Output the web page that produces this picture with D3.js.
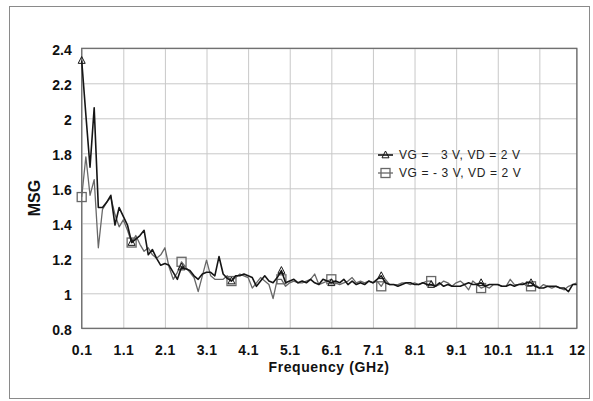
<!DOCTYPE html>
<html>
<head>
<meta charset="utf-8">
<script src="https://cdn.jsdelivr.net/npm/d3@7"></script>
<style>
  body { margin: 0; background: #fff; }
  svg { display: block; font-family: "Liberation Sans", Arial, sans-serif; }
</style>
</head>
<body>
<div id="chart"></div>
<script>
// frequency grid: 0.1 GHz step, 120 samples
const freqStart = 0.1;
const freqStep = 0.1;

const msgVg3 = [
    2.33, 2.02, 1.72, 2.06, 1.49, 1.49, 1.52, 1.56, 1.39, 1.49,
    1.44, 1.39, 1.29, 1.31, 1.33, 1.36, 1.22, 1.25, 1.20, 1.16,
    1.17, 1.16, 1.12, 1.08, 1.15, 1.14, 1.13, 1.10, 1.08, 1.11,
    1.12, 1.12, 1.10, 1.21, 1.11, 1.085, 1.07, 1.10, 1.10, 1.11,
    1.10, 1.09, 1.04, 1.07, 1.10, 1.07, 1.06, 1.09, 1.13, 1.06,
    1.07, 1.08, 1.06, 1.07, 1.06, 1.08, 1.06, 1.05, 1.08, 1.07,
    1.06, 1.07, 1.06, 1.08, 1.05, 1.07, 1.05, 1.06, 1.05, 1.07,
    1.06, 1.08, 1.10, 1.06, 1.05, 1.05, 1.04, 1.05, 1.06, 1.06,
    1.05, 1.05, 1.06, 1.05, 1.05, 1.04, 1.06, 1.04, 1.05, 1.04,
    1.04, 1.04, 1.05, 1.06, 1.05, 1.05, 1.06, 1.04, 1.05, 1.05,
    1.05, 1.04, 1.04, 1.05, 1.04, 1.05, 1.05, 1.06, 1.06, 1.04,
    1.03, 1.03, 1.04, 1.04, 1.04, 1.03, 1.03, 1.01, 1.05, 1.05
];

const msgVgNeg3 = [
    1.55, 1.78, 1.56, 1.65, 1.26, 1.48, 1.52, 1.55, 1.45, 1.38,
    1.42, 1.36, 1.29, 1.33, 1.28, 1.24, 1.26, 1.22, 1.20, 1.22,
    1.26, 1.15, 1.08, 1.12, 1.18, 1.15, 1.12, 1.09, 1.01, 1.10,
    1.19, 1.10, 1.08, 1.08, 1.08, 1.10, 1.07, 1.09, 1.11, 1.10,
    1.09, 1.03, 1.06, 1.09, 1.07, 1.05, 0.97, 1.08, 1.08, 1.04,
    1.06, 1.07, 1.06, 1.06, 1.07, 1.08, 1.11, 1.05, 1.06, 1.07,
    1.08, 1.06, 1.05, 1.06, 1.07, 1.09, 1.06, 1.07, 1.06, 1.07,
    1.06, 1.07, 1.04, 1.08, 1.05, 1.05, 1.05, 1.06, 1.06, 1.05,
    1.06, 1.05, 1.06, 1.07, 1.07, 1.04, 1.05, 1.07, 1.06, 1.04,
    1.06, 1.07, 1.05, 1.02, 1.07, 1.05, 1.03, 1.04, 1.03, 1.05,
    1.05, 1.04, 1.04, 1.08, 1.05, 1.05, 1.06, 1.04, 1.04, 1.05,
    1.03, 1.05, 1.04, 1.03, 1.04, 1.03, 1.02, 1.04, 1.05, 1.06
];

const xTicks = [0.1, 1.1, 2.1, 3.1, 4.1, 5.1, 6.1, 7.1, 8.1, 9.1, 10.1, 11.1, 12];
const yTicks = [0.8, 1.0, 1.2, 1.4, 1.6, 1.8, 2.0, 2.2, 2.4];
const markerEvery = 12;

const seriesNames = ["VG =   3 V, VD = 2 V", "VG = - 3 V, VD = 2 V"];

const width = 593;
const height = 401;
const plot = { left: 81.7, right: 576.8, top: 48.3, bottom: 328.3 };

const svg = d3.select("#chart")
    .append("svg")
    .attr("width", width)
    .attr("height", height);

// outer frame
svg.append("rect")
    .attr("x", 9.5).attr("y", 6.5)
    .attr("width", 580).attr("height", 392)
    .attr("fill", "#fff")
    .attr("stroke", "#8a8a8a")
    .attr("stroke-width", 1);

const x = d3.scaleLinear().domain([0.1, 12]).range([plot.left, plot.right]);
const y = d3.scaleLinear().domain([0.8, 2.4]).range([plot.bottom, plot.top]);

const fmt = d => String(+d.toFixed(1));

// grid
svg.append("g")
    .attr("transform", `translate(0,${plot.bottom})`)
    .call(d3.axisBottom(x).tickValues(xTicks).tickSize(-(plot.bottom - plot.top)).tickFormat(""))
    .call(g => g.select(".domain").remove())
    .call(g => g.selectAll("line").attr("stroke", "#c8c8c8").attr("stroke-width", 1));

svg.append("g")
    .attr("transform", `translate(${plot.left},0)`)
    .call(d3.axisLeft(y).tickValues(yTicks).tickSize(-(plot.right - plot.left)).tickFormat(""))
    .call(g => g.select(".domain").remove())
    .call(g => g.selectAll("line").attr("stroke", "#c8c8c8").attr("stroke-width", 1));

// plot frame
svg.append("rect")
    .attr("x", plot.left).attr("y", plot.top)
    .attr("width", plot.right - plot.left).attr("height", plot.bottom - plot.top)
    .attr("fill", "none")
    .attr("stroke", "#666")
    .attr("stroke-width", 1.2);

// tick labels
const xAxis = svg.append("g")
    .attr("transform", `translate(0,${plot.bottom})`)
    .call(d3.axisBottom(x).tickValues(xTicks).tickSize(0).tickPadding(17).tickFormat(fmt));
xAxis.select(".domain").remove();
xAxis.selectAll("text")
    .attr("font-size", 14).attr("font-weight", "bold")
    .attr("font-family", "Liberation Sans, Arial, sans-serif")
    .attr("letter-spacing", 0.4)
    .attr("fill", "#111");

const yAxis = svg.append("g")
    .attr("transform", `translate(${plot.left},0)`)
    .call(d3.axisLeft(y).tickValues(yTicks).tickSize(0).tickPadding(10).tickFormat(fmt));
yAxis.select(".domain").remove();
yAxis.selectAll("text")
    .attr("font-size", 14).attr("font-weight", "bold")
    .attr("font-family", "Liberation Sans, Arial, sans-serif")
    .attr("fill", "#111")
    .attr("dy", "0.45em");

// axis titles
svg.append("text")
    .attr("x", 329).attr("y", 372)
    .attr("text-anchor", "middle")
    .attr("font-size", 14).attr("font-weight", "bold")
    .attr("letter-spacing", 0.6)
    .attr("fill", "#111")
    .text("Frequency (GHz)");

svg.append("text")
    .attr("transform", "translate(40,198) rotate(-90)")
    .attr("text-anchor", "middle")
    .attr("font-size", 16).attr("font-weight", "bold")
    .attr("fill", "#111")
    .text("MSG");

// series
const series = [
    { name: seriesNames[0], values: msgVg3, color: "#151515", width: 1.6, marker: "triangle" },
    { name: seriesNames[1], values: msgVgNeg3, color: "#686868", width: 1.3, marker: "square" }
];

const line = d3.line()
    .x((d, i) => x(freqStart + i * freqStep))
    .y(d => y(d));

function drawMarker(g, kind, cx, cy, color) {
    if (kind === "triangle") {
        g.append("path")
            .attr("d", "M0,-4L3.5,2.8L-3.5,2.8Z")
            .attr("transform", `translate(${cx},${cy})`)
            .attr("fill", "none")
            .attr("stroke", color)
            .attr("stroke-width", 1);
    } else {
        g.append("rect")
            .attr("x", cx - 4.5).attr("y", cy - 4.5)
            .attr("width", 9).attr("height", 9)
            .attr("fill", "none")
            .attr("stroke", color)
            .attr("stroke-width", 1.3);
    }
}

// draw grey series first so the black one sits on top
[series[1], series[0]].forEach(s => {
    const g = svg.append("g");
    g.append("path")
        .datum(s.values)
        .attr("d", line)
        .attr("fill", "none")
        .attr("stroke", s.color)
        .attr("stroke-width", s.width)
        .attr("stroke-linejoin", "round");
    s.values.forEach((v, i) => {
        if (i % markerEvery === 0) {
            drawMarker(g, s.marker, x(freqStart + i * freqStep), y(v), s.color);
        }
    });
});

// legend
const legend = svg.append("g");
series.forEach((s, i) => {
    const ly = 155 + i * 18;
    legend.append("line")
        .attr("x1", 378).attr("x2", 393)
        .attr("y1", ly).attr("y2", ly)
        .attr("stroke", s.color).attr("stroke-width", s.width);
    drawMarker(legend, s.marker, 385.5, ly, s.color);
    legend.append("text")
        .attr("x", 399).attr("y", ly + 4)
        .attr("font-size", 12)
        .attr("letter-spacing", 0.6)
        .attr("fill", "#222")
        .style("white-space", "pre")
        .text(s.name);
});
</script>
</body>
</html>
